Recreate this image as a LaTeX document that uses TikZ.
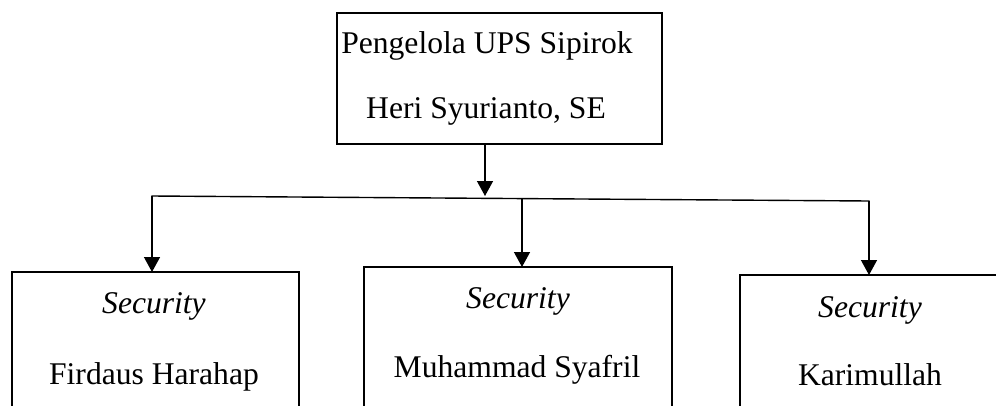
\documentclass[tikz,border=0pt]{standalone}
\usepackage{fontspec}
\setmainfont{Liberation Serif}
\usetikzlibrary{arrows.meta}
\tikzset{
  kotak/.style={draw, line width=1.4pt, inner sep=0pt, outer sep=0pt, anchor=north west},
  teks/.style={anchor=base, inner sep=0pt, font=\fontsize{31.6}{38}\selectfont},
  garis/.style={line width=1.4pt, line cap=rect},
  panah/.style={line width=1.4pt, -{Triangle[length=15pt,width=16pt]}}
}

\begin{document}
\begin{tikzpicture}[x=1pt,y=-1pt]
			%%%%% START %%%%%
			\useasboundingbox (0,0) rectangle (996,405);
			\clip (0,0) rectangle (996,405);
			
			% pengelola
			\node[kotak, minimum width=325, minimum height=131] (pengelola) at (337,13) {};
			\node[teks] (jabatanP) at (487,53) {Pengelola UPS Sipirok};
			\node[teks] (namaP) at (486,118) {Heri Syurianto, SE};
			
			% security
			\node[kotak, minimum width=287, minimum height=150] (satpamA) at (12,272) {};
			\node[teks] (jabatanA) at (154,313) {\textit{Security}};
			\node[teks] (namaA) at (154,384) {Firdaus Harahap};
			
			\node[kotak, minimum width=308, minimum height=155] (satpamB) at (364,267) {};
			\node[teks] (jabatanB) at (518,308) {\textit{Security}};
			\node[teks] (namaB) at (517,377) {Muhammad Syafril};
			
			\node[kotak, minimum width=290, minimum height=150] (satpamC) at (740,275) {};
			\node[teks] (jabatanC) at (870,317) {\textit{Security}};
			\node[teks] (namaC) at (870,385) {Karimullah};
			
			% garis
			\coordinate (busT) at (485,196);
			\coordinate (busL) at (152,196);
			\coordinate (busM) at (522,198);
			\coordinate (busR) at (869,201);
			
			\draw[panah] (pengelola.south -| busT) -- (busT);
			\draw[garis] (busL) -- (busR);
			\draw[panah] (busL) -- (busL |- satpamA.north);
			\draw[panah] (busM) -- (busM |- satpamB.north);
			\draw[panah] (busR) -- (busR |- satpamC.north);
			
			%%%%% END %%%%%
\end{tikzpicture}
\end{document}
